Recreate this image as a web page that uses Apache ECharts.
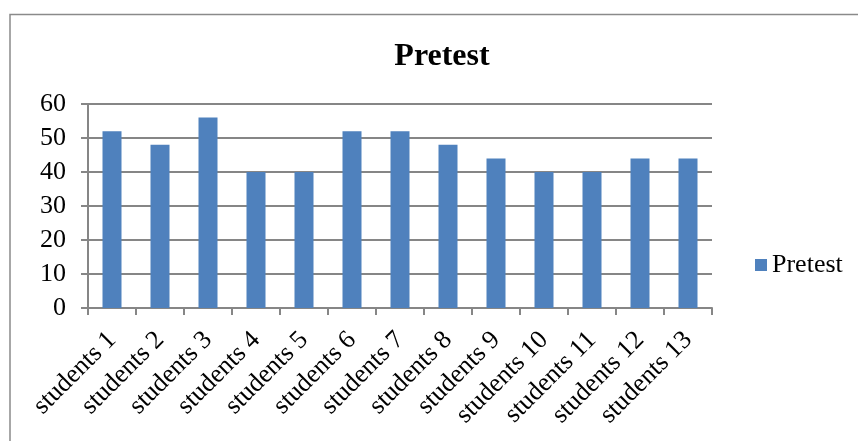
<!DOCTYPE html>
<html><head><meta charset="utf-8">
<script src="https://cdn.jsdelivr.net/npm/echarts@6/dist/echarts.min.js"></script>
<style>html,body{margin:0;padding:0;background:#fff}#c{width:858px;height:441px}</style>
</head><body><div id="c"></div>
<script>
const categories = ['students 1','students 2','students 3','students 4','students 5','students 6','students 7','students 8','students 9','students 10','students 11','students 12','students 13'];
const pretest = [52,48,56,40,40,52,52,48,44,40,40,44,44];
const seriesName = 'Pretest';
const titleText = 'Pretest';
const font = '"Liberation Serif","Times New Roman",serif';
const chart = echarts.init(document.getElementById('c'), null, {renderer:'canvas'});
chart.setOption({
  animation:false,
  backgroundColor:'#fff',
  graphic:[{type:'rect',shape:{x:10,y:14.5,width:900,height:500},style:{fill:'none',stroke:'#8a8a8a',lineWidth:1.5},silent:true}],
  title:{text:titleText,left:437,top:36,textAlign:'center',textStyle:{fontFamily:font,fontSize:32,fontWeight:'bold',color:'#000'}},
  legend:{data:[seriesName],left:750,top:247,itemWidth:12,itemHeight:12,itemGap:8,icon:'rect',textStyle:{fontFamily:font,fontSize:26,color:'#000'}},
  grid:{left:88,top:104,width:624,height:204,containLabel:false},
  xAxis:{type:'category',data:categories,
    axisLine:{lineStyle:{color:'#868686',width:2}},
    axisTick:{show:true,alignWithLabel:false,length:7,lineStyle:{color:'#868686',width:2}},
    axisLabel:{rotate:45,interval:0,margin:28,fontFamily:font,fontSize:26,color:'#000'}},
  yAxis:{type:'value',min:0,max:60,interval:10,
    axisLine:{show:true,lineStyle:{color:'#868686',width:2}},
    axisTick:{show:true,length:7,lineStyle:{color:'#868686',width:2}},
    splitLine:{lineStyle:{color:'#868686',width:2}},
    axisLabel:{margin:22,fontFamily:font,fontSize:26,color:'#000'}},
  series:[{name:seriesName,type:'bar',data:pretest,barWidth:19,itemStyle:{color:'#4F81BD'}}]
});
</script></body></html>
